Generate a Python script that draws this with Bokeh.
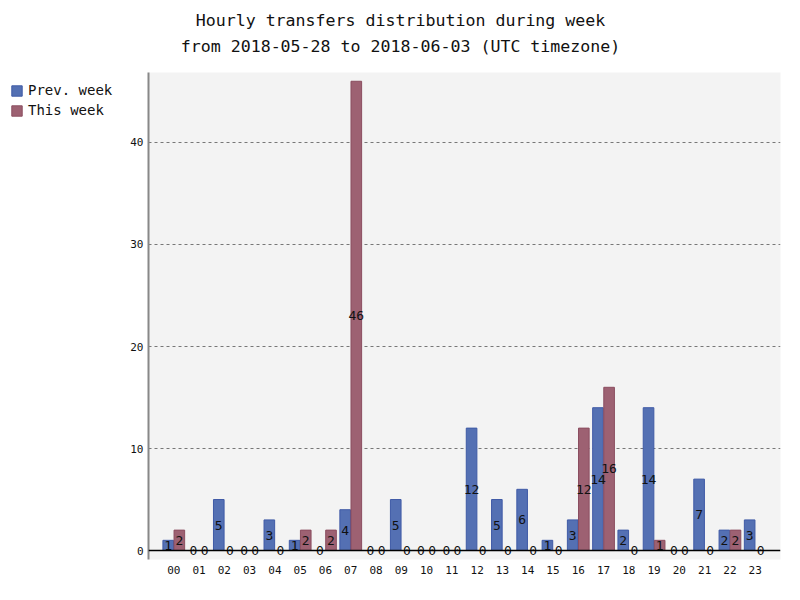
import numpy as np
from bokeh.plotting import figure
from bokeh.layouts import row, column
from bokeh.models import (ColumnDataSource, Range1d, FixedTicker, Span, Legend, LegendItem, Label)
from bokeh.transform import dodge
from bokeh.core.properties import value
from bokeh.embed import file_html
from bokeh.resources import INLINE

hours = ["00", "01", "02", "03", "04", "05", "06", "07", "08", "09", "10", "11",
         "12", "13", "14", "15", "16", "17", "18", "19", "20", "21", "22", "23"]
prev_week = [1, 0, 5, 0, 3, 1, 0, 4, 0, 5, 0, 0, 12, 5, 6, 1, 3, 14, 2, 14, 0, 7, 2, 3]
this_week = [2, 0, 0, 0, 0, 2, 2, 46, 0, 0, 0, 0, 0, 0, 0, 0, 12, 16, 0, 1, 0, 0, 2, 0]
y_ticks = [0, 10, 20, 30, 40]
series_names = ["Prev. week", "This week"]
title_lines = ["Hourly transfers distribution during week",
               "from 2018-05-28 to 2018-06-03 (UTC timezone)"]

FONT = "DejaVu Sans Mono"
BLUE_FILL, BLUE_LINE = "#5470b3", "#3f5aa6"
RED_FILL, RED_LINE = "#9d6172", "#8b4d60"
TOTAL_W, TOTAL_H = 784, 584
TITLE_H = 72
LEG_W = 120

idx = np.arange(len(hours))
src = ColumnDataSource(dict(
    x=idx,
    prev=prev_week,
    this=this_week,
    prev_mid=[v / 2 for v in prev_week],
    this_mid=[v / 2 for v in this_week],
    prev_lbl=[str(v) for v in prev_week],
    this_lbl=[str(v) for v in this_week],
))

# ---- title strip ----
tf = figure(width=TOTAL_W, height=TITLE_H, output_backend="svg", toolbar_location=None,
            x_axis_type=None, y_axis_type=None, min_border=0,
            x_range=Range1d(0, 1), y_range=Range1d(0, 1))
tf.outline_line_color = None
tf.grid.grid_line_color = None
tf.title = None
for txt, ypix in [(title_lines[0], TITLE_H - 20), (title_lines[1], TITLE_H - 46)]:
    tf.add_layout(Label(x=400, y=ypix, x_units="screen", y_units="screen", text=txt,
                        text_align="center", text_baseline="middle", text_font=FONT,
                        text_font_size="16.6px", text_color="#111111"))

# ---- main chart ----
p = figure(width=TOTAL_W - LEG_W, height=TOTAL_H - TITLE_H, output_backend="svg",
           toolbar_location=None,
           x_range=Range1d(-1, len(hours)), y_range=Range1d(-0.88, 46.86),
           min_border_left=148 - LEG_W, min_border_right=4, min_border_top=0, min_border_bottom=25)
p.outline_line_color = None
p.background_fill_color = "#f3f3f3"
p.border_fill_color = "white"
p.title = None

off = 0.22
w = 0.42
p.vbar(x=dodge("x", -off), top="prev", width=w, source=src,
       fill_color=BLUE_FILL, line_color=BLUE_LINE, line_width=1)
p.vbar(x=dodge("x", off), top="this", width=w, source=src,
       fill_color=RED_FILL, line_color=RED_LINE, line_width=1)

p.add_layout(Span(location=0, dimension="width", line_color="black", line_width=1.5))

for ycol, lcol, o in [("prev_mid", "prev_lbl", -off), ("this_mid", "this_lbl", off)]:
    p.text(x=dodge("x", o), y=ycol, text=lcol, source=src, text_align="center",
           text_baseline="middle", text_font=value(FONT), text_font_size="13px",
           text_color="#111111")

p.xaxis.ticker = FixedTicker(ticks=list(idx))
p.xaxis.major_label_overrides = {int(i): h for i, h in zip(idx, hours)}
p.xaxis.axis_line_color = None
p.xaxis.major_tick_line_color = None
p.xaxis.major_tick_out = 0
p.xaxis.minor_tick_line_color = None
p.xaxis.major_label_text_font = FONT
p.xaxis.major_label_text_font_size = "11px"
p.xaxis.major_label_text_color = "#111111"
p.xaxis.major_label_standoff = 6

p.yaxis.ticker = FixedTicker(ticks=y_ticks)
p.yaxis.axis_line_color = "#888888"
p.yaxis.axis_line_width = 2
p.yaxis.major_tick_line_color = None
p.yaxis.major_tick_out = 0
p.yaxis.minor_tick_line_color = None
p.yaxis.major_label_text_font = FONT
p.yaxis.major_label_text_font_size = "11px"
p.yaxis.major_label_text_color = "#111111"
p.yaxis.major_label_standoff = 5

p.xgrid.grid_line_color = None
p.ygrid.ticker = FixedTicker(ticks=y_ticks[1:])
p.ygrid.grid_line_color = "#777777"
p.ygrid.grid_line_dash = "3 3"
p.ygrid.grid_line_width = 1

# ---- legend strip (same data; renderers hidden so only the legend shows) ----
lp = figure(width=LEG_W, height=TOTAL_H - TITLE_H, output_backend="svg", toolbar_location=None,
            x_axis_type=None, y_axis_type=None, min_border_left=0, min_border_top=0,
            min_border_right=0, min_border_bottom=25,
            x_range=Range1d(1000, 1001), y_range=Range1d(1000, 1001))
lp.outline_line_color = None
lp.grid.grid_line_color = None
lp.title = None
lr1 = lp.vbar(x=dodge("x", -off), top="prev", width=w, source=src,
              fill_color=BLUE_FILL, line_color=BLUE_LINE)
lr2 = lp.vbar(x=dodge("x", off), top="this", width=w, source=src,
              fill_color=RED_FILL, line_color=RED_LINE)
lr1.visible = False
lr2.visible = False
legend = Legend(items=[LegendItem(label=series_names[0], renderers=[lr1]),
                       LegendItem(label=series_names[1], renderers=[lr2])],
                location="top_left", glyph_width=13, glyph_height=13,
                label_text_font=FONT, label_text_font_size="14px", label_standoff=5,
                label_text_color="#111111", click_policy="none",
                spacing=4, padding=0, margin=10, border_line_color=None,
                background_fill_alpha=0, label_height=13)
lp.add_layout(legend, "center")

layout = column(tf, row(lp, p, spacing=0), spacing=0)
open("out.html", "w").write(file_html(layout, INLINE))
